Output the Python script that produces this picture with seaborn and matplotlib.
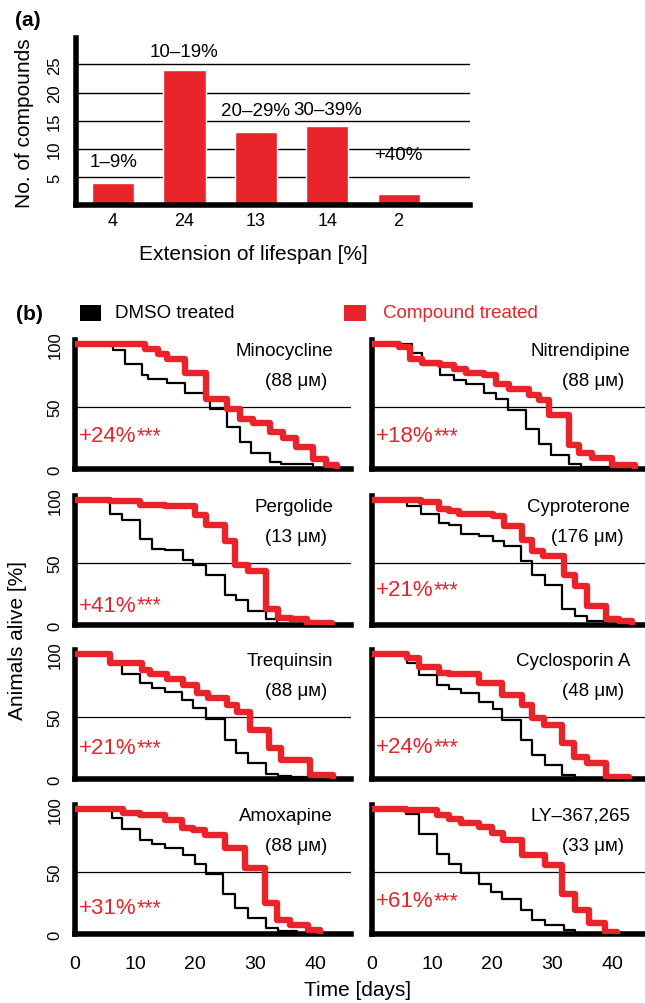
import numpy as np
import pandas as pd
import seaborn as sns
import matplotlib
matplotlib.use('Agg')
from matplotlib import pyplot as plt
from matplotlib.patches import Rectangle

# ---- panel (a): compounds per lifespan-extension class
ranges = ['1–9%', '10–19%', '20–29%', '30–39%', '+40%']
counts = [4, 24, 13, 14, 2]

# ---- panel (b): survival curves (time in days, % alive after each step)
compounds = ['Minocycline', 'Nitrendipine', 'Pergolide', 'Cyproterone',
             'Trequinsin', 'Cyclosporin A', 'Amoxapine', 'LY–367,265']
doses = ['88', '88', '13', '176', '88', '48', '88', '33']
gains = ['+24%', '+18%', '+41%', '+21%', '+21%', '+24%', '+31%', '+61%']

dmso_t = [
    [0, 6.4, 8.3, 11.1, 12.2, 15.3, 18.3, 21.9, 22.5, 25.3, 27.5, 29.4, 32.5, 34.4, 39.7, 41],
    [0, 6.7, 8.4, 11.4, 13.7, 15.6, 18.7, 20.6, 22.6, 25.6, 27.8, 29.8, 32.8, 34.8, 40, 42],
    [0, 5.8, 7.8, 10.8, 12.8, 15, 18, 19.7, 21.9, 25, 26.9, 28.9, 31.9, 33.6],
    [0, 5.9, 8.1, 11.2, 12.8, 14.8, 17.8, 20.1, 22, 24.8, 26.7, 28.9, 31.7, 33.9, 35.9, 39],
    [0, 5.8, 7.8, 10.8, 12.8, 15, 17.8, 19.7, 21.9, 25, 26.9, 28.9, 31.9, 33.9, 36, 40],
    [0, 5.9, 7.8, 10.9, 12.8, 14.8, 17.8, 20.1, 21.7, 24.8, 26.7, 28.9, 31.7, 33.9, 36],
    [0, 6.1, 7.8, 10.8, 12.8, 15, 18, 20, 21.9, 24.7, 26.7, 28.9, 31.9, 33.9, 37],
    [0, 5.6, 7.8, 10.9, 12.8, 14.8, 17.8, 19.8, 21.7, 24.8, 26.7, 28.9, 32, 33.9],
]
dmso_s = [
    [100, 95, 84, 75, 72, 69, 61, 55, 48, 34, 22, 12.5, 5.5, 4, 1, 0],
    [100, 93, 83, 75, 71, 68, 61, 56, 47, 32, 20, 11, 4, 2, 1, 0],
    [100, 89, 84, 69, 61, 60, 52, 48, 40, 24, 20, 11, 5, 0],
    [100, 95, 89, 82, 80, 73, 71, 67, 63, 51, 40, 32, 13, 7, 3, 0],
    [100, 93, 84, 77, 73, 70, 63, 57, 48, 31, 21, 13, 4, 2.5, 1.3, 0],
    [100, 93, 83, 75, 72, 69, 62, 56, 47, 31, 19, 11, 3, 1, 0],
    [100, 93, 84, 75, 72, 69, 63, 56, 48, 32, 21, 13, 5, 2.7, 0],
    [100, 96, 80, 64, 56, 49, 40, 34, 28, 19, 11, 7, 3, 0],
]
comp_t = [
    [0, 11.7, 13.8, 15.3, 18.3, 21.9, 25.3, 27.5, 29.7, 32.5, 34.7, 36.9, 39.7, 41.9, 43.6],
    [0, 4.5, 6.4, 8.4, 11.4, 13.7, 15.6, 18.7, 20.6, 22.8, 26.2, 27.8, 29.5, 32.8, 34.5, 36.7, 40, 43.9],
    [0, 5.8, 10.8, 15, 20, 21.9, 25, 26.7, 28.9, 31.9, 33.8, 36, 38.6, 42.8],
    [0, 8.1, 11.2, 12.8, 14.5, 20.1, 22, 25, 26.7, 28.5, 32, 33.9, 35.9, 39, 41.2, 43.4],
    [0, 5.8, 11.1, 12.5, 15.3, 18, 20.3, 22.2, 25.3, 27, 29.2, 32.4, 34.3, 39.2, 43],
    [0, 5.9, 7.8, 11.2, 12.8, 17.8, 21.7, 25, 26.7, 28.7, 31.7, 33.7, 35.9, 39, 42.8],
    [0, 8, 10.8, 15, 17.8, 19.7, 21.7, 25, 28.3, 31.7, 33.6, 35.8, 38.9, 40.8],
    [0, 5.6, 10.9, 12.8, 14.8, 17.8, 20, 21.9, 25, 28.9, 31.7, 33.9, 36.1, 38.9, 40.9],
]
comp_s = [
    [100, 96, 92, 88, 77, 56, 48, 40, 37, 30, 25, 18, 8, 3, 0],
    [100, 98, 88, 85, 83, 80, 77, 75, 68, 64, 59, 55, 43, 19, 13, 9, 3, 0],
    [100, 99, 96, 95, 88, 80, 67, 48, 43, 13, 6, 4.5, 2, 0],
    [100, 98, 93, 91, 89, 87, 79, 68, 59, 55, 40, 31, 15, 5, 3, 0],
    [100, 93, 87, 84, 80, 75, 69, 65, 59, 54, 39, 25, 15, 3, 0],
    [100, 97, 90, 85, 84, 77, 67, 59, 49, 43, 29, 18, 13, 1.5, 0],
    [100, 97, 95, 91, 85, 83, 79, 69, 53, 25, 11, 7, 3, 0],
    [100, 99, 95, 92, 89, 86, 81, 75, 63, 55, 32, 19, 9, 2, 0],
]

RED = '#e8232a'
W, H = 645, 1004

sns.set_theme(style='white')
plt.rcParams['font.family'] = ['Liberation Sans', 'DejaVu Sans']
plt.rcParams['text.color'] = 'black'
plt.rcParams['axes.labelcolor'] = 'black'
plt.rcParams['xtick.color'] = 'black'
plt.rcParams['ytick.color'] = 'black'

fig = plt.figure(figsize=(W / 100, H / 100), dpi=100)


def px_axes(l, t, r, b):
    return fig.add_axes([l / W, 1 - b / H, (r - l) / W, (b - t) / H])


# ================= panel (a)
ax = px_axes(76, 39, 470, 206)
df_a = pd.DataFrame({'range': ranges, 'n': counts})
sns.barplot(data=df_a, x='range', y='n', color=RED, saturation=1, width=0.59, ax=ax)
ax.set_xlim(-0.52, 5.0)
ax.set_ylim(0, 29.7)
ax.set_axisbelow(True)
ax.yaxis.grid(True, color='black', lw=1)
ax.set_yticks([5, 10, 15, 20, 25])
ax.set_xticks(range(len(counts)))
ax.set_xticklabels([str(c) for c in counts])
ax.tick_params(axis='x', length=0, pad=5, labelsize=13)
ax.tick_params(axis='y', length=0, pad=10, labelsize=12)
plt.setp(ax.get_yticklabels(), rotation=90, va='center')
for s in ['top', 'right']:
    ax.spines[s].set_visible(False)
for s in ['left', 'bottom']:
    ax.spines[s].set_linewidth(4)
    ax.spines[s].set_color('black')
ax.set_xlabel('')
ax.set_ylabel('')
label_pad = [9, 7, 9, 6, 22]
for p, lab, pad in zip(ax.patches, ranges, label_pad):
    ax.annotate(lab, xy=(p.get_x() + p.get_width() / 2, p.get_height()),
                xytext=(0, pad), textcoords='offset points',
                ha='center', va='bottom', fontsize=13.5)

fig.text(15 / W, 1 - 21 / H, '(a)', fontsize=15, fontweight='bold', ha='left', va='center')
fig.text(25 / W, 1 - 123 / H, 'No. of compounds', fontsize=15, rotation=90, ha='center', va='center')
fig.text(253 / W, 1 - 254 / H, 'Extension of lifespan [%]', fontsize=15, ha='center', va='center')

# ================= panel (b)
fig.text(16 / W, 1 - 315 / H, '(b)', fontsize=15, fontweight='bold', ha='left', va='center')
fig.patches.append(Rectangle((80 / W, 1 - 322 / H), 21 / W, 16 / H, transform=fig.transFigure,
                             facecolor='black', edgecolor='none'))
fig.text(115 / W, 1 - 314 / H, 'DMSO treated', fontsize=13.5, ha='left', va='center')
fig.patches.append(Rectangle((344 / W, 1 - 322 / H), 22 / W, 16 / H, transform=fig.transFigure,
                             facecolor=RED, edgecolor='none'))
fig.text(383 / W, 1 - 314 / H, 'Compound treated', fontsize=13.5, color=RED, ha='left', va='center')

col_l = [75, 372]
col_r = [351, 645]
row_zero = [470, 626, 780, 935]
pct_y = [27, 27, 16, 28, 25, 26, 21, 27]

for i in range(8):
    row, col = divmod(i, 2)
    l, r = col_l[col], col_r[col]
    z = row_zero[row]
    ax = px_axes(l, z - 128.75, r, z)
    ax.axhline(50, color='black', lw=0.9, zorder=1)
    d1 = pd.DataFrame({'t': dmso_t[i], 's': dmso_s[i]})
    d2 = pd.DataFrame({'t': comp_t[i], 's': comp_s[i]})
    sns.lineplot(data=d1, x='t', y='s', estimator=None, drawstyle='steps-post',
                 color='black', lw=1.6, ax=ax, zorder=3)
    sns.lineplot(data=d2, x='t', y='s', estimator=None, drawstyle='steps-post',
                 color=RED, lw=4.6, ax=ax, zorder=4)
    ax.set_xlim(0, (r - l) / 6)
    ax.set_ylim(0, 103)
    for s in ['top', 'right']:
        ax.spines[s].set_visible(False)
    for s in ['left', 'bottom']:
        ax.spines[s].set_linewidth(4)
        ax.spines[s].set_color('black')
        ax.spines[s].set_zorder(2)
    ax.set_xticks(np.arange(0, 46, 5))
    if row == 3:
        ax.set_xticklabels([str(v) if v % 10 == 0 else '' for v in range(0, 46, 5)])
    else:
        ax.set_xticklabels([])
    ax.tick_params(axis='x', direction='out', length=3, width=4,
                   pad=12, labelsize=14)
    ax.set_yticks([0, 50, 100])
    if col == 0:
        ax.set_yticklabels(['0', '50', '100'])
    else:
        ax.set_yticklabels([])
    ax.tick_params(axis='y', length=0, pad=9, labelsize=12)
    plt.setp(ax.get_yticklabels(), rotation=90, va='center')
    ax.set_xlabel('')
    ax.set_ylabel('')

    ax.text(43, 95, compounds[i], fontsize=13.5, ha='right', va='center')
    ax.text(42, 71, '(' + doses[i] + ' μᴍ)', fontsize=13.5, ha='right', va='center')
    t = ax.text(0.6, pct_y[i], gains[i], fontsize=16, color=RED, ha='left', va='center')
    ax.annotate('***', xy=(1, 1), xycoords=t, xytext=(0.5, 0), textcoords='offset points',
                ha='left', va='top', fontsize=15.5, color=RED)

fig.text(18 / W, 1 - 641 / H, 'Animals alive [%]', fontsize=15, rotation=90, ha='center', va='center')
fig.text(358 / W, 1 - 991 / H, 'Time [days]', fontsize=15, ha='center', va='center')

fig.savefig('out.png', dpi=100)
